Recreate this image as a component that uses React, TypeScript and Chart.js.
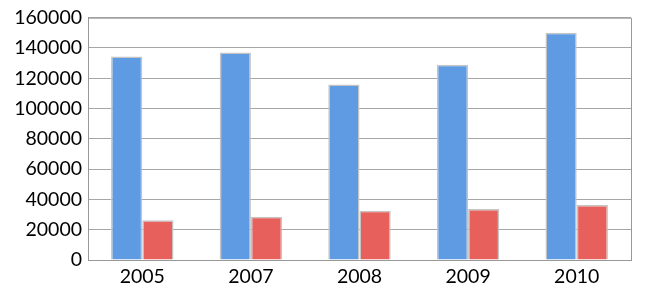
import React, { useEffect, useRef } from "react";
import { Chart, registerables } from "chart.js";

Chart.register(...registerables);

const categories = ["2005", "2007", "2008", "2009", "2010"];
const seriesA = [134300, 137000, 115900, 129000, 150000];
const seriesB = [26300, 28500, 32500, 33600, 36400];
const yTicks = [0, 20000, 40000, 60000, 80000, 100000, 120000, 140000, 160000];

export default function App() {
  const ref = useRef<HTMLCanvasElement | null>(null);
  useEffect(() => {
    if (!ref.current) return;
    const font = { family: "Lato", size: 19.5 };
    const chart = new Chart(ref.current, {
      type: "bar",
      data: {
        labels: categories,
        datasets: [
          {
            data: seriesA,
            backgroundColor: "#5f9be2",
            borderColor: "#c4c4c4",
            borderWidth: 1.5,
            barPercentage: 1,
            categoryPercentage: 0.575,
          },
          {
            data: seriesB,
            backgroundColor: "#e8605c",
            borderColor: "#c4c4c4",
            borderWidth: 1.5,
            barPercentage: 1,
            categoryPercentage: 0.575,
          },
        ],
      },
      options: {
        animation: false,
        responsive: false,
        maintainAspectRatio: false,
        layout: { padding: { top: 17, right: 15, left: 0, bottom: 0 } },
        plugins: { legend: { display: false }, tooltip: { enabled: false } },
        scales: {
          x: {
            grid: { display: false, drawTicks: false },
            border: { display: true, color: "#999999", width: 1 },
            ticks: { color: "#000000", font, padding: 5 },
            afterFit: (s: any) => {
              s.height = 38;
            },
          },
          y: {
            min: 0,
            max: 160000,
            afterBuildTicks: (s: any) => {
              s.ticks = yTicks.map((v) => ({ value: v }));
            },
            grid: { color: "#a6a6a6", lineWidth: 1, drawTicks: false },
            border: { display: true, color: "#999999", width: 1 },
            ticks: { color: "#000000", font, padding: 6, callback: (v: any) => String(v) },
            afterFit: (s: any) => {
              s.width = 88;
            },
          },
        },
      },
      plugins: [
        {
          id: "frame",
          afterDraw: (c: any) => {
            const { ctx, chartArea } = c;
            ctx.save();
            ctx.strokeStyle = "#999999";
            ctx.lineWidth = 1;
            ctx.beginPath();
            ctx.moveTo(chartArea.left, chartArea.top + 0.5);
            ctx.lineTo(chartArea.right + 0.5, chartArea.top + 0.5);
            ctx.lineTo(chartArea.right + 0.5, chartArea.bottom);
            ctx.stroke();
            ctx.restore();
          },
        },
      ],
    });
    return () => chart.destroy();
  }, []);
  return (
    <div style={{ position: "fixed", left: 0, top: 0, width: 646, height: 298, background: "#ffffff" }}>
      <canvas ref={ref} width={646} height={298} style={{ width: 646, height: 298, display: "block" }} />
    </div>
  );
}
